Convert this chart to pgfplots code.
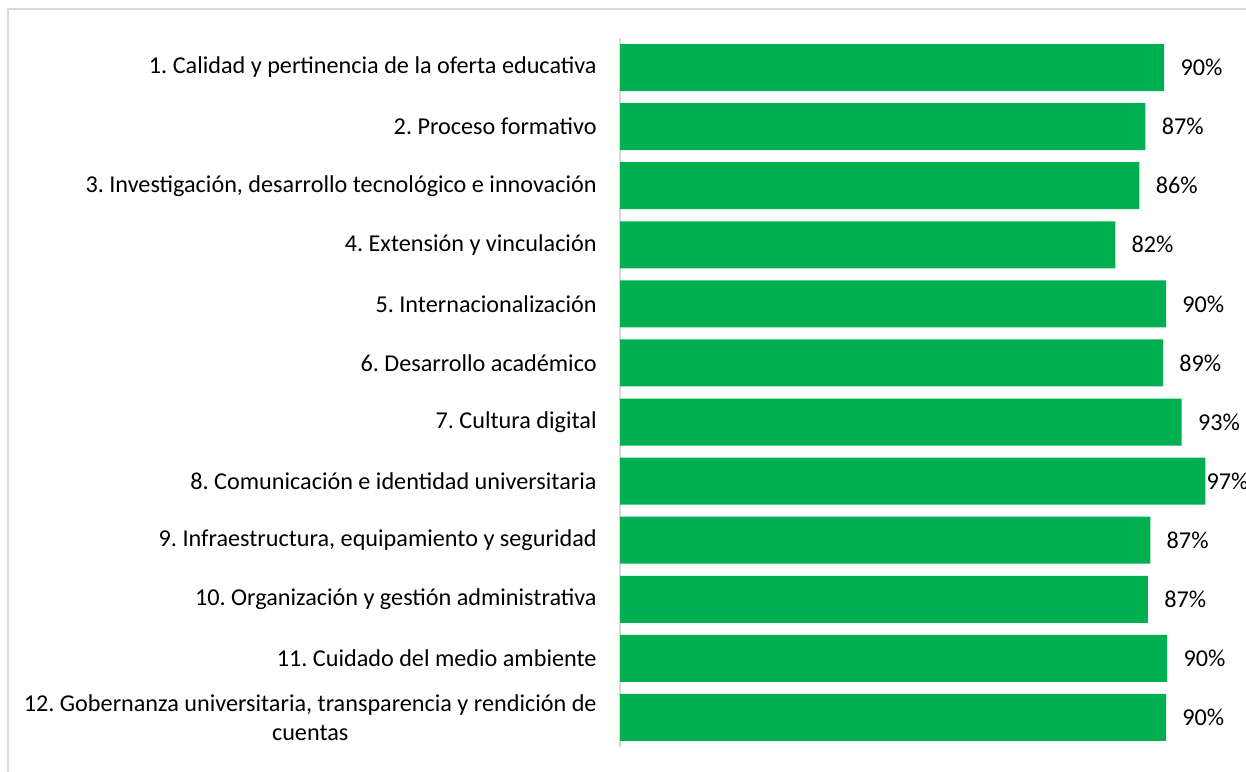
\documentclass[border=0pt]{standalone}
\usepackage{fontspec}
\setmainfont{Carlito}
\usepackage{pgfplots}
\pgfplotsset{compat=1.18}
\usepackage{pgfplotstable}
\definecolor{bargreen}{RGB}{0,176,80}
\definecolor{framegray}{RGB}{217,217,217}
\frenchspacing
\newcommand{\lblfont}{\fontsize{12.1}{14.5}\selectfont}

% pos = category slot (1 = top), val = bar length, lab = printed value, sh = label gap
\pgfplotstableread{
pos val  lab sh
1   90.1 90  8
2   87.0 87  8
3   86.0 86  8
4   82.0 82  8
5   90.4 90  8
6   89.9 89  8
7   93.0 93  8
8   96.9 97  0.5
9   87.8 87  8
10  87.4 87  8
11  90.6 90  8
12  90.4 90  8
}\scores

\begin{document}
\begin{tikzpicture}
\useasboundingbox (0,0) rectangle (623pt,385.5pt);
\clip (0,0) rectangle (623pt,385.5pt);
% chart area frame (only top and left edges are visible)
\draw[framegray, line width=0.75pt] (4pt,-2pt) -- (4pt,381pt) -- (630pt,381pt);
\begin{axis}[
  at={(310pt,12pt)}, anchor=south west,
  scale only axis,
  width=302pt, height=354.5pt,
  xbar, bar width=23.5pt,
  xmin=0, xmax=100,
  ymin=0.5, ymax=12.5,
  y dir=reverse,
  axis lines*=left,
  x axis line style={draw=none},
  y axis line style={draw=framegray, line width=0.75pt},
  xtick=\empty,
  ytick={1,...,12},
  major tick length=0pt,
  yticklabels={
    {1. Calidad y pertinencia de la oferta educativa},
    {2. Proceso formativo},
    {3. Investigación, desarrollo tecnológico e innovación},
    {4. Extensión y vinculación},
    {5. Internacionalización},
    {6. Desarrollo académico},
    {7. Cultura digital},
    {8. Comunicación e identidad universitaria},
    {9. Infraestructura, equipamiento y seguridad},
    {10. Organización y gestión administrativa},
    {11. Cuidado del medio ambiente},
    {12. Gobernanza universitaria, transparencia y rendición de\\cuentas}
  },
  yticklabel style={font=\lblfont, align=center,
    anchor=east, inner sep=0pt, xshift=-11.5pt},
  clip=false,
  /pgf/number format/assume math mode=true,
  point meta=explicit,
  nodes near coords={\pgfmathprintnumber{\pgfplotspointmeta}\%},
  nodes near coords align={horizontal},
  visualization depends on={\thisrow{sh} \as \labshift},
  every node near coord/.style={font=\lblfont,
    anchor=west, inner sep=0pt, xshift=\labshift pt, text=black},
]
\addplot[fill=bargreen, draw=none] table[x=val, y=pos, meta=lab] {\scores};
\end{axis}
\end{tikzpicture}
\end{document}
